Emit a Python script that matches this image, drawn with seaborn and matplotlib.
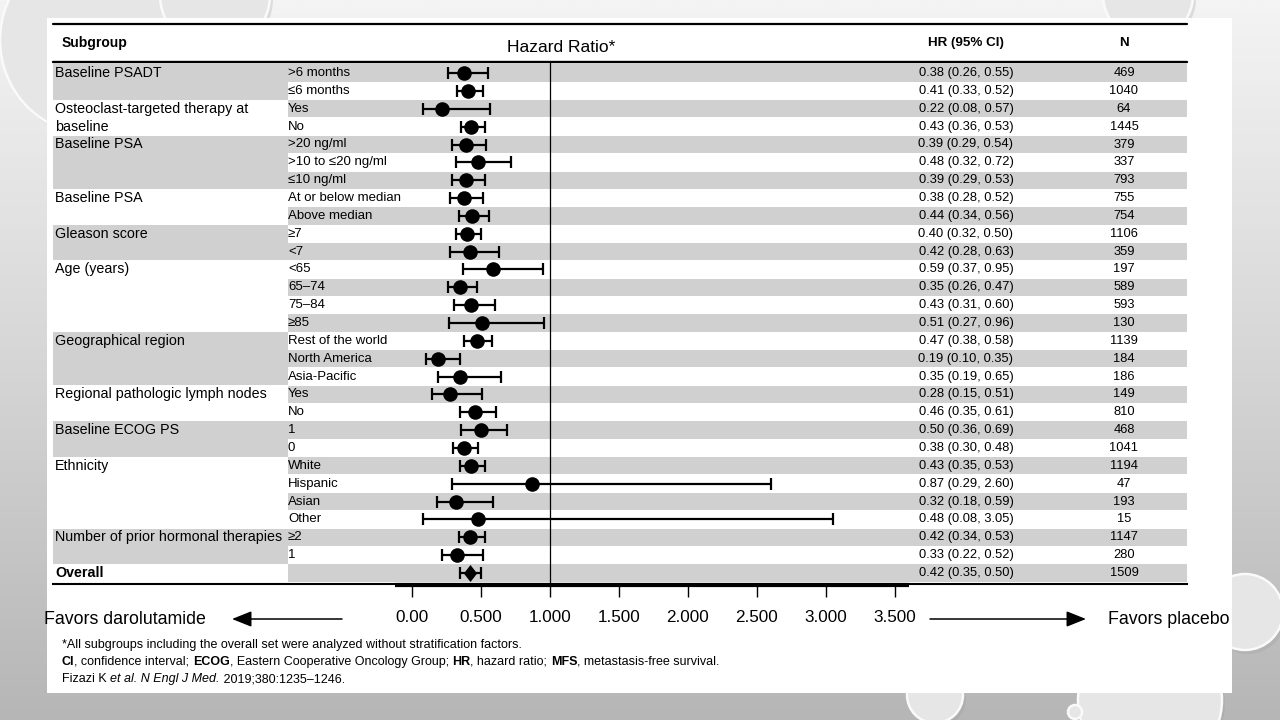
import numpy as np
import matplotlib
matplotlib.use("Agg")
import matplotlib.pyplot as plt
import seaborn as sns
from matplotlib.patches import Rectangle, Circle
from matplotlib.colors import LinearSegmentedColormap

# ---------------- data ----------------
groups = ["Baseline PSADT", "Osteoclast-targeted therapy at\nbaseline", "Baseline PSA", "Baseline PSA",
          "Gleason score", "Age (years)", "Geographical region", "Regional pathologic lymph nodes",
          "Baseline ECOG PS", "Ethnicity", "Number of prior hormonal therapies", "Overall"]
group_sizes = [2, 2, 3, 2, 2, 4, 3, 2, 2, 4, 2, 1]
subgroups = [">6 months", "≤6 months", "Yes", "No", ">20 ng/ml", ">10 to ≤20 ng/ml", "≤10 ng/ml",
             "At or below median", "Above median", "≥7", "<7", "<65", "65–74", "75–84", "≥85",
             "Rest of the world", "North America", "Asia-Pacific", "Yes", "No", "1", "0",
             "White", "Hispanic", "Asian", "Other", "≥2", "1", ""]
hr = [0.38, 0.41, 0.22, 0.43, 0.39, 0.48, 0.39, 0.38, 0.44, 0.40, 0.42, 0.59, 0.35, 0.43, 0.51,
      0.47, 0.19, 0.35, 0.28, 0.46, 0.50, 0.38, 0.43, 0.87, 0.32, 0.48, 0.42, 0.33, 0.42]
ci_low = [0.26, 0.33, 0.08, 0.36, 0.29, 0.32, 0.29, 0.28, 0.34, 0.32, 0.28, 0.37, 0.26, 0.31, 0.27,
          0.38, 0.10, 0.19, 0.15, 0.35, 0.36, 0.30, 0.35, 0.29, 0.18, 0.08, 0.34, 0.22, 0.35]
ci_high = [0.55, 0.52, 0.57, 0.53, 0.54, 0.72, 0.53, 0.52, 0.56, 0.50, 0.63, 0.95, 0.47, 0.60, 0.96,
           0.58, 0.35, 0.65, 0.51, 0.61, 0.69, 0.48, 0.53, 2.60, 0.59, 3.05, 0.53, 0.52, 0.50]
n_pts = [469, 1040, 64, 1445, 379, 337, 793, 755, 754, 1106, 359, 197, 589, 593, 130,
         1139, 184, 186, 149, 810, 468, 1041, 1194, 47, 193, 15, 1147, 280, 1509]
xticks = [0.0, 0.5, 1.0, 1.5, 2.0, 2.5, 3.0, 3.5]
xtick_labels = ["0.00", "0.500", "1.000", "1.500", "2.000", "2.500", "3.000", "3.500"]
footnote1 = [("*All subgroups including the overall set were analyzed without stratification factors.", "normal", "normal")]
footnote2 = [("CI", "bold", "normal"), (", confidence interval; ", "normal", "normal"),
             ("ECOG", "bold", "normal"), (", Eastern Cooperative Oncology Group; ", "normal", "normal"),
             ("HR", "bold", "normal"), (", hazard ratio; ", "normal", "normal"),
             ("MFS", "bold", "normal"), (", metastasis-free survival.", "normal", "normal")]
footnote3 = [("Fizazi K ", "normal", "normal"), ("et al. N Engl J Med.", "normal", "italic"),
             (" 2019;380:1235–1246.", "normal", "normal")]

# ---------------- style ----------------
sns.set_theme(style="white")
plt.rcParams["font.family"] = ["Liberation Sans", "DejaVu Sans"]
plt.rcParams["text.color"] = "black"
plt.rcParams["xtick.color"] = "black"
plt.rcParams["xtick.labelcolor"] = "black"
GRAY = "#d0d0d0"

# pixel -> data helpers (figure is 1280x720 px)
X0, PXU = 411.7, 138.0
Y0, PYU = 73.1, 17.85
def hx(p):
    return (p - X0) / PXU
def hy(p):
    return (p - Y0) / PYU

fig = plt.figure(figsize=(12.8, 7.2), dpi=100)

# background with gradient and bubbles
bg = fig.add_axes([0, 0, 1, 1], zorder=-10)
bg.set_xlim(0, 1280)
bg.set_ylim(720, 0)
bg.axis("off")
cmap = LinearSegmentedColormap.from_list("bg", ["#f4f4f4", "#d6d6d6", "#b6b6b6"])
bg.imshow(np.linspace(0, 1, 256).reshape(-1, 1), cmap=cmap, extent=(0, 1280, 720, 0), aspect="auto")
for (cx, cy, r) in [(95, 40, 95), (215, -5, 55), (1148, -5, 45), (1245, 612, 38),
                    (1150, 700, 72), (935, 695, 28), (1075, 712, 7)]:
    bg.add_patch(Circle((cx + 3, cy + 4), r, facecolor="#9a9a9a", edgecolor="none", alpha=0.25, zorder=1))
    bg.add_patch(Circle((cx, cy), r, facecolor="#e6e6e6", edgecolor="#fafafa", lw=1.8, zorder=2))
panel = Rectangle((47, 18), 1185, 675, facecolor="white", edgecolor="none", zorder=3)
bg.add_patch(panel)

# main axes = table area
ax = fig.add_axes([53 / 1280, (720 - 584) / 720, 1134 / 1280, (584 - 62) / 720])
ax.patch.set_alpha(0)
ax.set_xlim(hx(53), hx(1187))
ax.set_ylim(hy(584), hy(62))
for s in ["top", "left", "right"]:
    ax.spines[s].set_visible(False)
ax.spines["bottom"].set_linewidth(1.5)
ax.spines["bottom"].set_color("black")

nrows = len(subgroups)
rows = np.arange(nrows)

# row stripes (right part)
for i in rows:
    if i % 2 == 0:
        ax.add_patch(Rectangle((hx(288), i - 0.485), hx(1187) - hx(288), 0.97,
                               facecolor=GRAY, edgecolor="none", zorder=0))
# group bands and labels
start = 0
for gi, (g, size) in enumerate(zip(groups, group_sizes)):
    if gi % 2 == 0:
        ax.add_patch(Rectangle((hx(53), start - 0.485), hx(288) - hx(53), size - 0.03,
                               facecolor=GRAY, edgecolor="none", zorder=0))
    for li, line in enumerate(g.split("\n")):
        ax.text(hx(55), start + li, line, fontsize=10.3, va="center", ha="left",
                fontweight="bold" if g == "Overall" else "normal", zorder=3)
    start += size

# subgroup labels, HR text, N
for i in rows:
    ax.text(hx(288), i, subgroups[i], fontsize=9.5, va="center", ha="left", zorder=3)
    ax.text(hx(966), i, f"{hr[i]:.2f} ({ci_low[i]:.2f}, {ci_high[i]:.2f})", fontsize=9.3,
            va="center", ha="center", zorder=3)
    ax.text(hx(1124), i, str(n_pts[i]), fontsize=9.3, va="center", ha="center", zorder=3)

# reference line
ax.axvline(1.0, color="black", lw=0.9, zorder=2)

# CIs and points
hr_a, lo_a, hi_a = np.array(hr), np.array(ci_low), np.array(ci_high)
ax.errorbar(hr_a, rows, xerr=[hr_a - lo_a, hi_a - hr_a], fmt="none", ecolor="black",
            elinewidth=1.6, capsize=4.6, capthick=1.6, zorder=4)
sns.scatterplot(x=hr[:-1], y=rows[:-1], marker="o", s=110, color="black", edgecolor="black",
                linewidth=0, ax=ax, zorder=5, legend=False)
diamond = [(0, 1), (0.78, 0), (0, -1), (-0.78, 0), (0, 1)]
sns.scatterplot(x=hr[-1:], y=rows[-1:], marker=diamond, s=150, color="black", edgecolor="black",
                linewidth=0, ax=ax, zorder=5, legend=False)

# table lines
ax.plot([hx(53), hx(1187)], [hy(24), hy(24)], color="black", lw=1.6, clip_on=False)
ax.plot([hx(53), hx(1187)], [hy(61.5), hy(61.5)], color="black", lw=1.7, clip_on=False)
ax.plot([-0.12, 3.6], [hy(584.5), hy(584.5)], color="black", lw=3, clip_on=False, solid_capstyle="butt")

# headers
ax.text(hx(62), hy(43), "Subgroup", fontsize=10, fontweight="bold", va="center", ha="left")
ax.text(hx(561), hy(47), "Hazard Ratio*", fontsize=12.5, va="center", ha="center")
ax.text(hx(966), hy(43), "HR (95% CI)", fontsize=9.6, fontweight="bold", va="center", ha="center")
ax.text(hx(1124), hy(43), "N", fontsize=9.6, fontweight="bold", va="center", ha="center")

# x axis ticks
ax.set_yticks([])
ax.set_xticks(xticks, xtick_labels)
ax.tick_params(axis="x", direction="out", length=9.5, width=1, pad=9, labelsize=12.3,
               bottom=True, colors="black")
ax.grid(False)

# favors annotations
ty = hy(619)
t1 = ax.text(hx(44), ty, "Favors darolutamide", fontsize=12.8, va="center", ha="left")
t1.set_clip_path(panel)
t2 = ax.text(hx(1108), ty, "Favors placebo", fontsize=12.8, va="center", ha="left")
t2.set_clip_path(panel)
arrow_kw = dict(arrowstyle="-|>,head_length=0.75,head_width=0.3", color="black", lw=1.1,
                mutation_scale=16, shrinkA=0, shrinkB=0)
ax.annotate("", xy=(hx(232), ty), xytext=(hx(342), ty), arrowprops=arrow_kw, annotation_clip=False)
ax.annotate("", xy=(hx(1086), ty), xytext=(hx(930), ty), arrowprops=arrow_kw, annotation_clip=False)

# footnotes (rich text chained)
def rich_line(pieces, x, y, size=9.0):
    prev = None
    for txt, wt, st in pieces:
        if prev is None:
            prev = ax.text(x, y, txt, fontsize=size, fontweight=wt, fontstyle=st, va="center", ha="left")
        else:
            prev = ax.annotate(txt, xy=(1, 0), xycoords=prev, fontsize=size, fontweight=wt,
                               fontstyle=st, va="bottom", ha="left", annotation_clip=False)

rich_line(footnote1, hx(62), hy(645))
rich_line(footnote2, hx(62), hy(662))
rich_line(footnote3, hx(62), hy(679))

fig.savefig("out.png", dpi=100)
